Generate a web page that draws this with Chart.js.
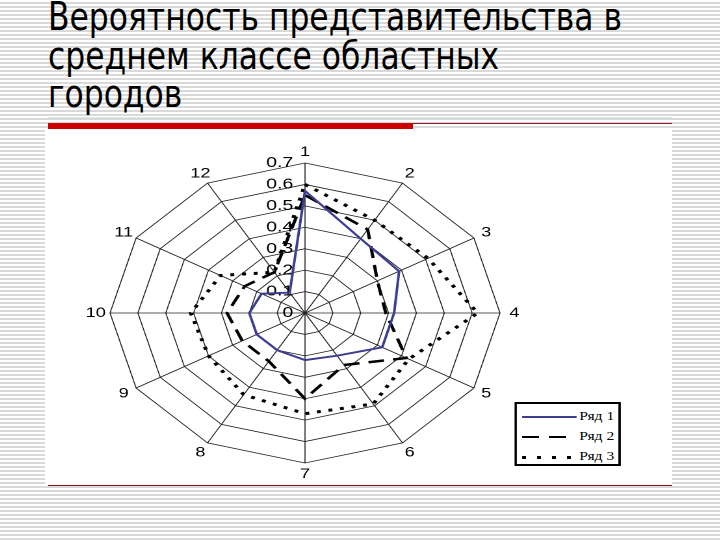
<!DOCTYPE html>
<html>
<head>
<meta charset="utf-8">
<script src="https://cdn.jsdelivr.net/npm/chart.js@4.4.1/dist/chart.umd.min.js"></script>
<style>
  html, body { margin: 0; padding: 0; }
  body {
    width: 720px; height: 540px; position: relative; overflow: hidden;
    background: repeating-linear-gradient(to bottom, #fff 0, #fff 2.5px, #d9d9d9 2.5px, #d9d9d9 4px);
  }
  #title {
    position: absolute; left: 48px; top: -2px; margin: 0;
    font: normal 39px/38.5px "DejaVu Sans Condensed", "DejaVu Sans", sans-serif;
    color: #000; white-space: nowrap; transform-origin: 0 0;
  }
  #title span { display: inline-block; }
  #panel { position: absolute; left: 45px; top: 130px; width: 627px; height: 355px; background: #fff; }
  #faint { position: absolute; left: 48px; top: 117px; width: 624px; height: 1px; background: #d6eceb; }
  #redbar { position: absolute; left: 48px; top: 123px; width: 365px; height: 6px; background: #cc0000; }
  #topline { position: absolute; left: 413px; top: 123px; width: 259px; height: 1px; background: #8b1c1c; }
  #bottomline { position: absolute; left: 48px; top: 485px; width: 624px; height: 1px; background: #8b1c1c; }
  #wrap {
    position: absolute; left: 71px; top: 133px; width: 360px; height: 360px;
    transform: scaleX(1.3); transform-origin: 0 0;
  }
  #legend {
    position: absolute; left: 341px; top: 269px; width: 78px; height: 60px;
    border: 2px solid #000; background: #fff;
    font: 12px "Liberation Serif", "DejaVu Serif", serif; color: #000;
  }
  .row { position: absolute; left: 4px; height: 14px; line-height: 14px; white-space: nowrap; }
  .sw { display: inline-block; width: 42px; vertical-align: middle; margin-right: 2px; }
  .s1 { height: 2px; background: #3d3d91; }
  .s2 { height: 2px; background: repeating-linear-gradient(to right, #000 0, #000 13px, transparent 13px, transparent 21px); }
  .s3 { height: 3px; background: repeating-linear-gradient(to right, #000 0, #000 3px, transparent 3px, transparent 11.5px); }
</style>
</head>
<body>
<div id="panel"></div>
<h1 id="title"><span id="t1">Вероятность представительства в</span><br>среднем классе областных<br>городов</h1>
<div id="faint"></div>
<div id="redbar"></div>
<div id="topline"></div>
<div id="bottomline"></div>
<div id="wrap">
  <canvas id="c" width="360" height="360"></canvas>
  <div id="legend">
    <div class="row" style="top:5px"><span class="sw s1"></span>Ряд 1</div>
    <div class="row" style="top:25px"><span class="sw s2"></span>Ряд 2</div>
    <div class="row" style="top:45px"><span class="sw s3"></span>Ряд 3</div>
  </div>
</div>
<script>
  var cities = ['1', '2', '3', '4', '5', '6', '7', '8', '9', '10', '11', '12'];
  var tickLabels = ['0', '0.1', '0.2', '0.3', '0.4', '0.5', '0.6', '0.7'];

  var row1 = [0.57, 0.40, 0.39, 0.32, 0.32, 0.23, 0.22, 0.20, 0.20, 0.20, 0.18, 0.11];
  var row2 = [0.55, 0.45, 0.30, 0.29, 0.42, 0.28, 0.40, 0.26, 0.26, 0.28, 0.25, 0.22];
  var row3 = [0.60, 0.50, 0.51, 0.62, 0.43, 0.49, 0.47, 0.44, 0.40, 0.41, 0.35, 0.22];

  // squeeze the title so the first line ends where the slide's does
  var t1 = document.getElementById('t1');
  document.getElementById('title').style.transform = 'scaleX(' + (574 / t1.getBoundingClientRect().width) + ')';

  // numbers round the web and along axis 1, drawn off the radial scale
  var axisText = {
    id: 'axisText',
    beforeDatasetsDraw: function(chart) {
      var r = chart.scales.r;
      var ctx = chart.ctx;
      ctx.save();
      ctx.fillStyle = '#000';
      ctx.textBaseline = 'middle';
      ctx.font = '15px "Liberation Sans", Arial, sans-serif';
      ctx.textAlign = 'right';
      for (var j = 0; j < tickLabels.length; j++) {
        var d = r.getDistanceFromCenterForValue(parseFloat(tickLabels[j]));
        ctx.fillText(tickLabels[j], r.xCenter - 9, r.yCenter - d);
      }
      ctx.font = '14px "Liberation Sans", Arial, sans-serif';
      ctx.textAlign = 'center';
      for (var i = 0; i < cities.length; i++) {
        var p = r.getPointPosition(i, r.drawingArea + 11);
        ctx.fillText(cities[i], p.x, p.y);
      }
      ctx.restore();
    }
  };

  new Chart(document.getElementById('c'), {
    type: 'radar',
    data: {
      labels: cities,
      datasets: [{
        label: 'Ряд 1',
        data: row1,
        borderColor: '#3d3d91',
        borderWidth: 2,
        fill: false,
        pointRadius: 0
      }, {
        label: 'Ряд 2',
        data: row2,
        borderColor: '#000',
        borderWidth: 2.5,
        borderDash: [12, 7],
        fill: false,
        pointRadius: 0
      }, {
        label: 'Ряд 3',
        data: row3,
        borderColor: '#000',
        borderWidth: 3,
        borderDash: [3, 6],
        fill: false,
        pointRadius: 0
      }]
    },
    options: {
      responsive: false,
      animation: false,
      devicePixelRatio: 2,
      layout: { padding: 30 },
      plugins: {
        legend: { display: false },
        tooltip: { enabled: false }
      },
      elements: { line: { tension: 0 } },
      scales: {
        r: {
          min: 0,
          max: 0.7,
          ticks: { display: false, stepSize: 0.1 },
          grid: { color: '#222', lineWidth: 0.8 },
          angleLines: { color: '#222', lineWidth: 0.8 },
          pointLabels: { display: false }
        }
      }
    },
    plugins: [axisText]
  });
</script>
</body>
</html>
